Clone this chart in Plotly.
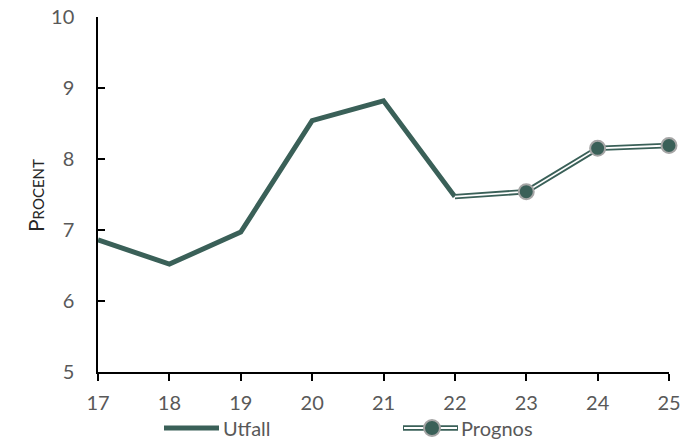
import plotly.graph_objects as go

# Years (two-digit) and values in percent
years = [17, 18, 19, 20, 21, 22, 23, 24, 25]
utfall_years = [17, 18, 19, 20, 21, 22]
utfall = [6.86, 6.52, 6.97, 8.54, 8.82, 7.47]
prognos_years = [22, 23, 24, 25]
prognos = [7.47, 7.54, 8.15, 8.19]

GREEN = "#3a6058"
FONT = "Lato, 'Open Sans', sans-serif"
FS = 20

fig = go.Figure()

fig.add_trace(go.Scatter(
    x=utfall_years, y=utfall, mode="lines", name="Utfall",
    line=dict(color=GREEN, width=5), showlegend=False,
))
# Double line: wide green stroke with a thin white core
fig.add_trace(go.Scatter(
    x=prognos_years, y=prognos, mode="lines", name="Prognos",
    line=dict(color=GREEN, width=5.5), showlegend=False,
))
fig.add_trace(go.Scatter(
    x=prognos_years, y=prognos, mode="lines",
    line=dict(color="white", width=1.8), showlegend=False, hoverinfo="skip",
))
fig.add_trace(go.Scatter(
    x=prognos_years[1:], y=prognos[1:], mode="markers",
    marker=dict(color=GREEN, size=15, line=dict(color="#a6a6a6", width=2)),
    showlegend=False, hoverinfo="skip",
))

# Legend drawn in paper coordinates below the axis
PW, PH = 571, 355
ly = -(428 - 372) / PH
shapes = [
    dict(type="line", xref="paper", yref="paper", x0=(164 - 98) / PW, x1=(219 - 98) / PW,
         y0=ly, y1=ly, line=dict(color=GREEN, width=5)),
    dict(type="line", xref="paper", yref="paper", x0=(403 - 98) / PW, x1=(458 - 98) / PW,
         y0=ly, y1=ly, line=dict(color=GREEN, width=5.5)),
    dict(type="line", xref="paper", yref="paper", x0=(404 - 98) / PW, x1=(457 - 98) / PW,
         y0=ly, y1=ly, line=dict(color="white", width=1.8)),
    dict(type="circle", xref="paper", yref="paper",
         x0=(424 - 98) / PW, x1=(440 - 98) / PW,
         y0=ly - 8 / PH, y1=ly + 8 / PH,
         fillcolor=GREEN, line=dict(color="#a6a6a6", width=2)),
]
annotations = [
    dict(text="Utfall", xref="paper", yref="paper", x=(221 - 98) / PW, y=ly,
         xanchor="left", yanchor="middle", showarrow=False,
         font=dict(family=FONT, size=FS, color="#595959")),
    dict(text="Prognos", xref="paper", yref="paper", x=(459 - 98) / PW, y=ly,
         xanchor="left", yanchor="middle", showarrow=False,
         font=dict(family=FONT, size=FS, color="#595959")),
    dict(text="P<span style='font-size:15px'>ROCENT</span>", xref="paper", yref="paper",
         x=(35 - 98) / PW, y=(372 - 196) / PH, textangle=-90,
         xanchor="center", yanchor="middle", showarrow=False,
         font=dict(family=FONT, size=21, color="#262626")),
]

fig.update_layout(
    width=686, height=440,
    margin=dict(l=98, r=17, t=17, b=68, autoexpand=False),
    plot_bgcolor="white", paper_bgcolor="white",
    font=dict(family=FONT, size=FS, color="#595959"),
    shapes=shapes, annotations=annotations,
    xaxis=dict(
        range=[17, 25], tickvals=years, ticktext=[str(y) for y in years],
        showgrid=False, zeroline=False, showline=True, linecolor="black", linewidth=1.5,
        ticks="outside", ticklen=7, tickcolor="black", tickwidth=1.5,
        ticklabelstandoff=5, automargin=False,
    ),
    yaxis=dict(
        range=[5, 10], tickvals=[5, 6, 7, 8, 9, 10],
        showgrid=False, zeroline=False, showline=True, linecolor="black", linewidth=1.5,
        ticks="inside", ticklen=7, tickcolor="black", tickwidth=1.5,
        ticklabelstandoff=18, automargin=False,
    ),
)
for tr in fig.data:
    tr.cliponaxis = False

fig.write_html("out.html")
